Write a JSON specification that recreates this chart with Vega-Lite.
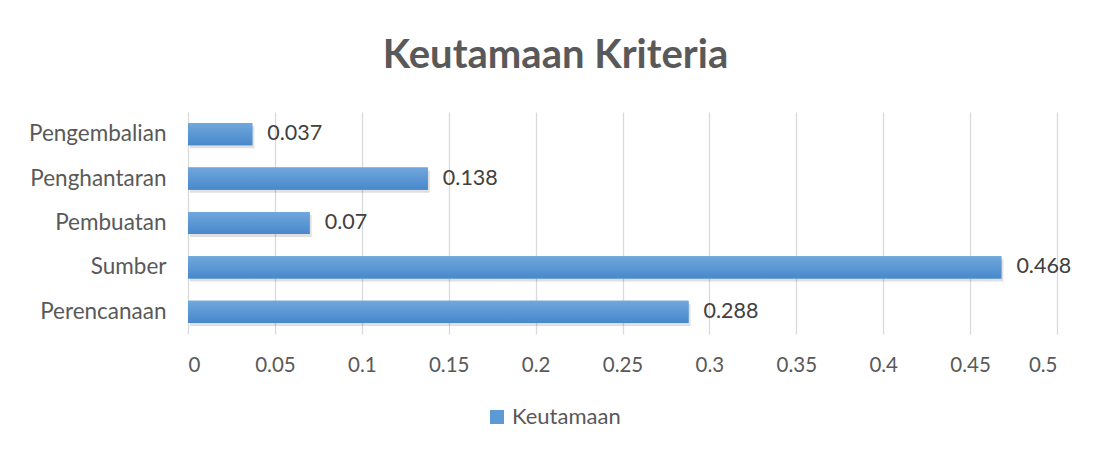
{
  "$schema": "https://vega.github.io/schema/vega-lite/v6.json",
  "autosize": "none",
  "width": 869,
  "height": 222,
  "padding": {"left": 188, "top": 112, "right": 37, "bottom": 119},
  "background": "#ffffff",
  "config": {"view": {"stroke": null}, "font": "Lato"},
  "title": {
    "text": "Keutamaan Kriteria",
    "fontSize": 40,
    "font": "Lato",
    "fontWeight": "bold",
    "color": "#595959",
    "anchor": "middle",
    "dx": -67,
    "offset": 36
  },
  "data": {
    "values": [
      {"kriteria": "Pengembalian", "nilai": 0.037, "label": "0.037", "series": "Keutamaan"},
      {"kriteria": "Penghantaran", "nilai": 0.138, "label": "0.138", "series": "Keutamaan"},
      {"kriteria": "Pembuatan", "nilai": 0.07, "label": "0.07", "series": "Keutamaan"},
      {"kriteria": "Sumber", "nilai": 0.468, "label": "0.468", "series": "Keutamaan"},
      {"kriteria": "Perencanaan", "nilai": 0.288, "label": "0.288", "series": "Keutamaan"}
    ]
  },
  "encoding": {
    "y": {
      "field": "kriteria",
      "type": "nominal",
      "sort": ["Pengembalian", "Penghantaran", "Pembuatan", "Sumber", "Perencanaan"],
      "scale": {"paddingInner": 0.5, "paddingOuter": 0.25},
      "axis": {
        "title": null,
        "domain": false,
        "ticks": false,
        "labelFontSize": 22.5,
        "labelColor": "#595959",
        "labelPadding": 22,
        "labelFont": "Lato"
      }
    },
    "x": {
      "field": "nilai",
      "type": "quantitative",
      "scale": {"domain": [0, 0.5], "nice": false},
      "axis": {
        "title": null,
        "values": [0, 0.05, 0.1, 0.15, 0.2, 0.25, 0.3, 0.35, 0.4, 0.45, 0.5],
        "format": "~g",
        "domain": false,
        "ticks": false,
        "grid": true,
        "gridColor": "#d9d9d9",
        "gridWidth": 1.3,
        "labelFontSize": 20.5,
        "labelColor": "#595959",
        "labelPadding": 21,
        "labelFont": "Lato"
      }
    }
  },
  "layer": [
    {
      "mark": {"type": "bar", "color": "#000000", "opacity": 0.12, "xOffset": 2, "yOffset": 3},
      "encoding": {}
    },
    {
      "mark": {"type": "bar"},
      "encoding": {
        "color": {
          "field": "series",
          "type": "nominal",
          "scale": {"range": ["#5b9bd5"]},
          "legend": {
            "title": null,
            "orient": "none",
            "legendX": 298,
            "legendY": 294,
            "symbolType": "square",
            "symbolSize": 196,
            "labelFontSize": 22,
            "labelColor": "#595959",
            "labelFont": "Lato",
            "symbolStrokeWidth": 0,
            "labelOffset": 4
          }
        }
      }
    },
    {
      "mark": {
        "type": "bar",
        "color": {
          "gradient": "linear",
          "x1": 0, "y1": 0, "x2": 0, "y2": 1,
          "stops": [
            {"offset": 0, "color": "#71a7dc"},
            {"offset": 1, "color": "#4788cc"}
          ]
        }
      },
      "encoding": {}
    },
    {
      "mark": {"type": "text", "align": "left", "dx": 15, "fontSize": 21.5, "color": "#404040", "font": "Lato"},
      "encoding": {"text": {"field": "label", "type": "nominal"}}
    }
  ]
}
